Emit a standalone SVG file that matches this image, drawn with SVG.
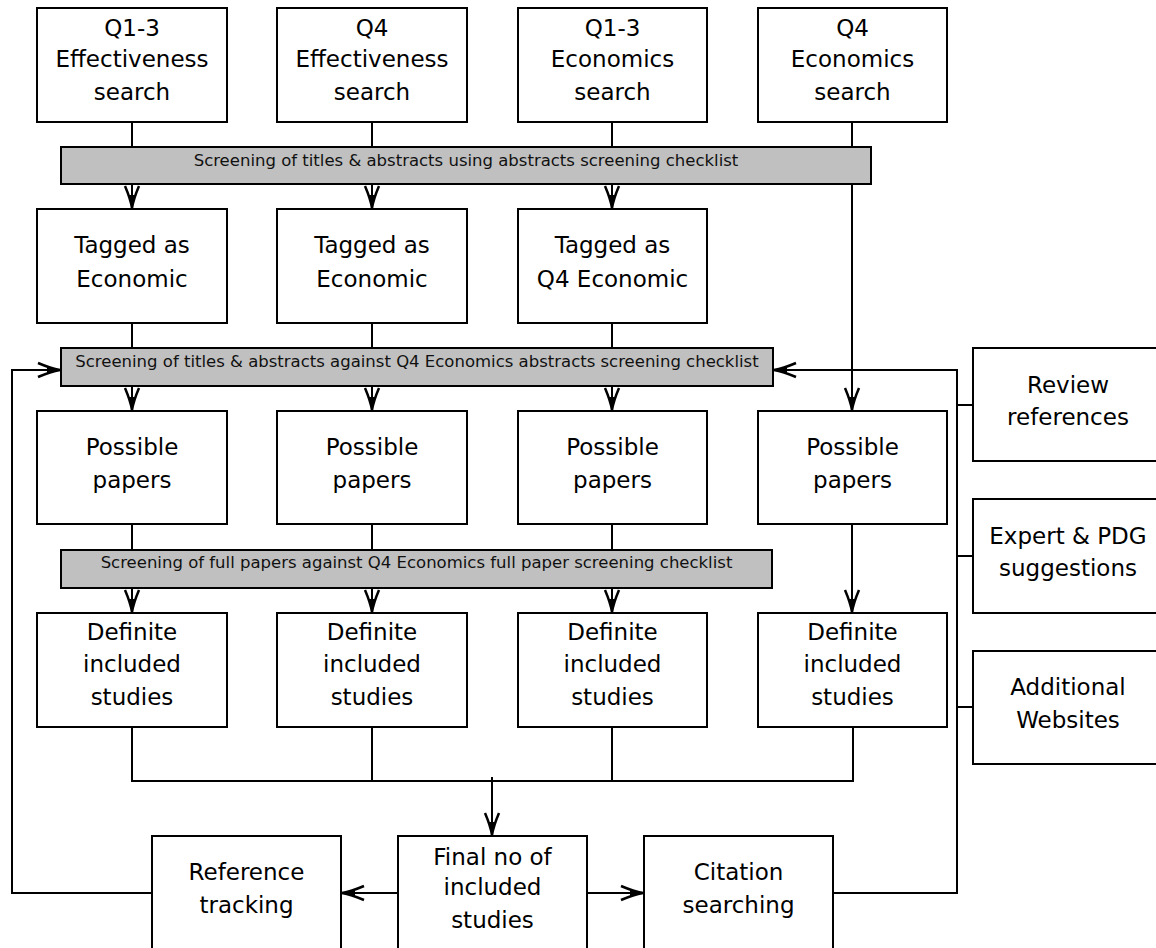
<svg xmlns="http://www.w3.org/2000/svg" width="1156" height="948" viewBox="0 0 1156 948">
<defs>
<style>
.box{fill:#fff;stroke:#000;stroke-width:2}
.bar{fill:#c0c0c0;stroke:#000;stroke-width:2}
.t{font-family:"DejaVu Sans",Verdana,sans-serif;font-size:23px;fill:#000;text-anchor:middle}
.bt{font-family:"DejaVu Sans",Verdana,sans-serif;font-size:16.5px;fill:#111;text-anchor:middle}
.c{fill:none;stroke:#000;stroke-width:2}
.ca{fill:none;stroke:#000;stroke-width:2;marker-end:url(#ah)}
</style>
<marker id="ah" markerUnits="userSpaceOnUse" viewBox="-24 -9 26 18" refX="0" refY="0" markerWidth="26" markerHeight="18" orient="auto">
<path d="M-22,-7 Q-9,-1.5 0,0 Q-9,1.5 -22,7" fill="none" stroke="#000" stroke-width="2.5"/>
<path d="M0,0 L-13,-3 L-13,3 Z" fill="#000"/>
</marker>
</defs>
<rect width="1156" height="948" fill="#fff"/>
<g id="connectors">
<path class="c" d="M132,122V147M372,122V147M612,122V147"/>
<path class="ca" d="M132,184V208"/>
<path class="ca" d="M372,184V208"/>
<path class="ca" d="M612,184V208"/>
<path class="ca" d="M852,122V410"/>
<path class="c" d="M132,323V348M372,323V348M612,323V348"/>
<path class="ca" d="M132,386V410"/>
<path class="ca" d="M372,386V410"/>
<path class="ca" d="M612,386V410"/>
<path class="c" d="M132,524V550M372,524V550M612,524V550"/>
<path class="ca" d="M132,588V612"/>
<path class="ca" d="M372,588V612"/>
<path class="ca" d="M612,588V612"/>
<path class="ca" d="M852,524V612"/>
<path class="c" d="M132,727V781H853V727M372,727V781M612,727V781"/>
<path class="ca" d="M492,777V835"/>
<path class="ca" d="M398,893H342"/>
<path class="ca" d="M587,893H643"/>
<path class="ca" d="M152,893H12V370H60"/>
<path class="ca" d="M833,893H957V370H774"/>
<path class="c" d="M957,405H973M957,556H973M957,707H973"/>
</g>
<g id="bar1"><rect class="bar" x="61" y="147" width="810" height="37"/><text class="bt" x="466" y="166">Screening of titles &amp; abstracts using abstracts screening checklist</text></g>
<g id="bar2"><rect class="bar" x="61" y="348" width="712" height="38"/><text class="bt" x="417" y="367">Screening of titles &amp; abstracts against Q4 Economics abstracts screening checklist</text></g>
<g id="bar3"><rect class="bar" x="61" y="550" width="711" height="38"/><text class="bt" x="416.5" y="568">Screening of full papers against Q4 Economics full paper screening checklist</text></g>
<g id="s1"><rect class="box" x="37" y="8" width="190" height="114"/><text class="t" x="132" y="36">Q1-3</text><text class="t" x="132" y="67">Effectiveness</text><text class="t" x="132" y="100">search</text></g>
<g id="s2"><rect class="box" x="277" y="8" width="190" height="114"/><text class="t" x="372" y="36">Q4</text><text class="t" x="372" y="67">Effectiveness</text><text class="t" x="372" y="100">search</text></g>
<g id="s3"><rect class="box" x="518" y="8" width="189" height="114"/><text class="t" x="612.5" y="36">Q1-3</text><text class="t" x="612.5" y="67">Economics</text><text class="t" x="612.5" y="100">search</text></g>
<g id="s4"><rect class="box" x="758" y="8" width="189" height="114"/><text class="t" x="852.5" y="36">Q4</text><text class="t" x="852.5" y="67">Economics</text><text class="t" x="852.5" y="100">search</text></g>
<g id="g1"><rect class="box" x="37" y="209" width="190" height="114"/><text class="t" x="132" y="253">Tagged as</text><text class="t" x="132" y="287">Economic</text></g>
<g id="g2"><rect class="box" x="277" y="209" width="190" height="114"/><text class="t" x="372" y="253">Tagged as</text><text class="t" x="372" y="287">Economic</text></g>
<g id="g3"><rect class="box" x="518" y="209" width="189" height="114"/><text class="t" x="612.5" y="253">Tagged as</text><text class="t" x="612.5" y="287">Q4 Economic</text></g>
<g id="p1"><rect class="box" x="37" y="411" width="190" height="113"/><text class="t" x="132" y="455">Possible</text><text class="t" x="132" y="488">papers</text></g>
<g id="p2"><rect class="box" x="277" y="411" width="190" height="113"/><text class="t" x="372" y="455">Possible</text><text class="t" x="372" y="488">papers</text></g>
<g id="p3"><rect class="box" x="518" y="411" width="189" height="113"/><text class="t" x="612.5" y="455">Possible</text><text class="t" x="612.5" y="488">papers</text></g>
<g id="p4"><rect class="box" x="758" y="411" width="189" height="113"/><text class="t" x="852.5" y="455">Possible</text><text class="t" x="852.5" y="488">papers</text></g>
<g id="d1"><rect class="box" x="37" y="613" width="190" height="114"/><text class="t" x="132" y="640">Definite</text><text class="t" x="132" y="672">included</text><text class="t" x="132" y="705">studies</text></g>
<g id="d2"><rect class="box" x="277" y="613" width="190" height="114"/><text class="t" x="372" y="640">Definite</text><text class="t" x="372" y="672">included</text><text class="t" x="372" y="705">studies</text></g>
<g id="d3"><rect class="box" x="518" y="613" width="189" height="114"/><text class="t" x="612.5" y="640">Definite</text><text class="t" x="612.5" y="672">included</text><text class="t" x="612.5" y="705">studies</text></g>
<g id="d4"><rect class="box" x="758" y="613" width="189" height="114"/><text class="t" x="852.5" y="640">Definite</text><text class="t" x="852.5" y="672">included</text><text class="t" x="852.5" y="705">studies</text></g>
<g id="rr"><rect class="box" x="973" y="348" width="190" height="113"/><text class="t" x="1068" y="393">Review</text><text class="t" x="1068" y="425">references</text></g>
<g id="ep"><rect class="box" x="973" y="499" width="190" height="114"/><text class="t" x="1068" y="544">Expert &amp; PDG</text><text class="t" x="1068" y="576">suggestions</text></g>
<g id="aw"><rect class="box" x="973" y="651" width="190" height="113"/><text class="t" x="1068" y="695">Additional</text><text class="t" x="1068" y="728">Websites</text></g>
<g id="fin"><rect class="box" x="398" y="836" width="189" height="125"/><text class="t" x="492.5" y="865">Final no of</text><text class="t" x="492.5" y="895">included</text><text class="t" x="492.5" y="928">studies</text></g>
<g id="ref"><rect class="box" x="152" y="836" width="189" height="125"/><text class="t" x="246.5" y="880">Reference</text><text class="t" x="246.5" y="913">tracking</text></g>
<g id="cit"><rect class="box" x="644" y="836" width="189" height="125"/><text class="t" x="738.5" y="880">Citation</text><text class="t" x="738.5" y="913">searching</text></g>
</svg>
